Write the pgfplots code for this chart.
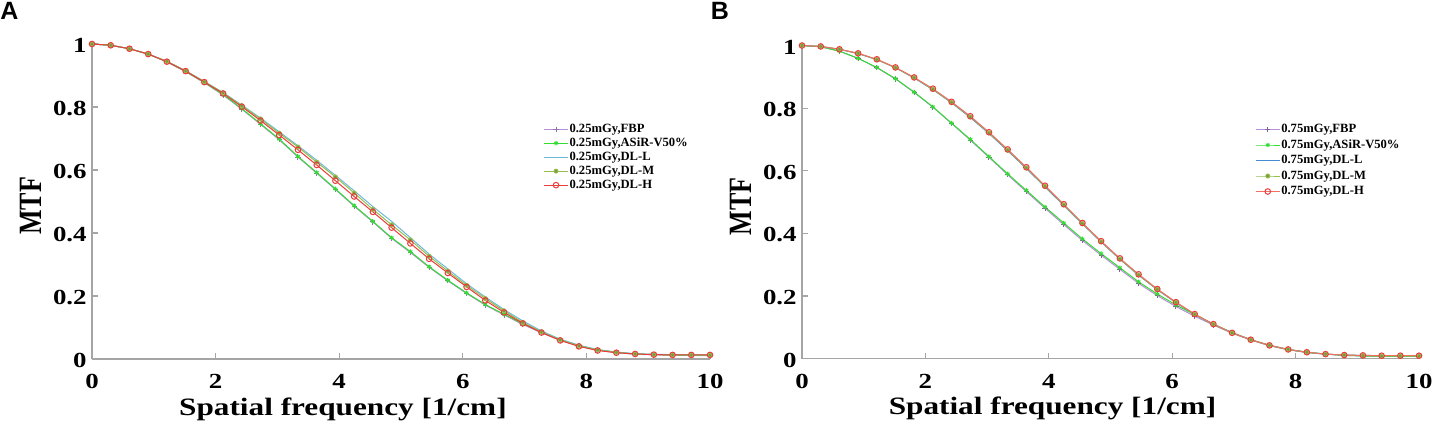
\documentclass[border=0pt]{standalone}
\usepackage{fontspec}
\usepackage{pgfplots}
\usepackage{pgfplotstable}
\pgfplotsset{compat=1.18}
\setmainfont{Liberation Serif}
\newfontfamily\stretchserif[FakeStretch=1.25]{Liberation Serif}
\newfontfamily\panelfont{Liberation Sans}
\newcommand\tickfont{\stretchserif\bfseries\fontsize{10.75}{12}\selectfont}
\newcommand\labelfont{\stretchserif\bfseries\fontsize{12.5}{14}\selectfont}
\newcommand\mtffont{\bfseries\fontsize{13}{15}\selectfont}

\definecolor{cFBP}{RGB}{185,140,215}
\definecolor{cASIR}{RGB}{50,220,50}
\definecolor{cDLLa}{RGB}{110,185,215}
\definecolor{cDLLb}{RGB}{70,140,210}
\definecolor{cDLM}{RGB}{150,190,80}
\definecolor{cDLH}{RGB}{235,60,60}
\definecolor{cDLHb}{RGB}{240,110,100}
\definecolor{axisgray}{RGB}{165,165,165}

\pgfplotstableread{
x FBP ASIR DLL DLM DLH
0.000 1.000 1.000 1.000 1.000 1.000
0.303 0.996 0.996 0.996 0.996 0.996
0.606 0.985 0.985 0.985 0.985 0.985
0.909 0.968 0.968 0.968 0.968 0.968
1.212 0.943 0.944 0.945 0.945 0.944
1.515 0.912 0.913 0.915 0.915 0.914
1.818 0.877 0.878 0.881 0.880 0.879
2.121 0.838 0.840 0.846 0.845 0.843
2.424 0.793 0.795 0.806 0.804 0.801
2.727 0.745 0.747 0.765 0.762 0.757
3.030 0.696 0.698 0.721 0.717 0.711
3.333 0.641 0.643 0.677 0.673 0.664
3.636 0.590 0.592 0.631 0.625 0.616
3.939 0.538 0.540 0.583 0.578 0.566
4.242 0.485 0.487 0.534 0.527 0.516
4.545 0.435 0.437 0.484 0.475 0.467
4.848 0.383 0.385 0.437 0.426 0.417
5.152 0.338 0.341 0.385 0.378 0.367
5.455 0.291 0.293 0.333 0.326 0.318
5.758 0.248 0.250 0.286 0.279 0.273
6.061 0.208 0.210 0.239 0.234 0.229
6.364 0.171 0.173 0.197 0.192 0.186
6.667 0.140 0.142 0.157 0.153 0.148
6.970 0.110 0.112 0.121 0.116 0.113
7.273 0.083 0.085 0.089 0.086 0.084
7.576 0.060 0.061 0.063 0.061 0.059
7.879 0.041 0.042 0.044 0.042 0.040
8.182 0.028 0.029 0.030 0.029 0.027
8.485 0.020 0.021 0.022 0.021 0.020
8.788 0.015 0.016 0.017 0.016 0.016
9.091 0.013 0.014 0.015 0.014 0.014
9.394 0.012 0.013 0.014 0.013 0.013
9.697 0.011 0.012 0.013 0.013 0.013
10.000 0.011 0.012 0.013 0.012 0.013
}\dataA

\pgfplotstableread{
x FBP ASIR DLL DLM DLH
0.000 1.000 1.000 1.000 1.000 1.000
0.303 0.996 0.996 0.997 0.997 0.997
0.606 0.982 0.982 0.988 0.988 0.988
0.909 0.959 0.959 0.974 0.975 0.975
1.212 0.929 0.930 0.955 0.955 0.956
1.515 0.893 0.894 0.929 0.929 0.930
1.818 0.850 0.851 0.896 0.897 0.898
2.121 0.803 0.804 0.859 0.860 0.862
2.424 0.751 0.752 0.817 0.818 0.820
2.727 0.698 0.700 0.770 0.772 0.774
3.030 0.643 0.645 0.719 0.721 0.723
3.333 0.587 0.590 0.664 0.666 0.668
3.636 0.533 0.537 0.607 0.609 0.611
3.939 0.480 0.484 0.548 0.550 0.552
4.242 0.428 0.433 0.489 0.491 0.493
4.545 0.377 0.382 0.430 0.431 0.433
4.848 0.330 0.335 0.372 0.373 0.375
5.152 0.285 0.290 0.317 0.318 0.320
5.455 0.240 0.245 0.266 0.267 0.269
5.758 0.201 0.206 0.220 0.221 0.222
6.061 0.166 0.171 0.178 0.179 0.180
6.364 0.135 0.140 0.141 0.141 0.142
6.667 0.107 0.110 0.109 0.109 0.110
6.970 0.081 0.083 0.082 0.082 0.082
7.273 0.059 0.060 0.060 0.060 0.060
7.576 0.041 0.042 0.042 0.042 0.042
7.879 0.028 0.028 0.029 0.029 0.029
8.182 0.019 0.020 0.020 0.020 0.020
8.485 0.014 0.014 0.014 0.014 0.014
8.788 0.010 0.010 0.011 0.011 0.011
9.091 0.008 0.008 0.010 0.009 0.010
9.394 0.007 0.007 0.009 0.008 0.009
9.697 0.007 0.007 0.009 0.008 0.009
10.000 0.007 0.007 0.009 0.008 0.009
}\dataB

\pgfplotsset{mtf/.style={
  scale only axis, xmin=0, xmax=10, ymin=0, ymax=1, clip=false,
  axis x line*=bottom, axis y line*=left,
  axis line style={draw=axisgray, line width=0.7pt, -},
  xtick={0,2,4,6,8,10}, xticklabels={0,2,4,6,8,10},
  ytick={0,0.2,0.4,0.6,0.8,1}, yticklabels={0,0.2,0.4,0.6,0.8,1},
  tick align=inside, major tick length=3pt,
  tick style={draw=axisgray, line width=0.6pt},
  ticklabel style={font=\tickfont},
  xticklabel style={anchor=center, yshift=-11.25pt},
  yticklabel style={anchor=east, inner sep=0pt, xshift=-2.5pt, yshift=-0.75pt},
  every axis x label/.style={at={(axis description cs:0.406,-0.1587)}, anchor=center, font=\labelfont},
  every axis y label/.style={at={(axis description cs:-0.099,0.486)}, anchor=center, rotate=90, font=\mtffont},
  xlabel={Spatial frequency [1/cm]},
  ylabel={\scalebox{1}[1.25]{MTF}},
  legend cell align=left,
  legend image code/.code={\draw[mark repeat=2,mark phase=2,#1] plot coordinates {(0pt,0pt) (6pt,0pt) (12pt,0pt)};},
  every axis plot/.append style={line width=0.5pt},
}}

\begin{document}
\begin{tikzpicture}[x=1pt,y=1pt]
\useasboundingbox (0,0) rectangle (716.5,212.5);
\node[font=\panelfont\bfseries\fontsize{12.5}{14}\selectfont] at (4.75,207.25) {A};
\node[font=\panelfont\bfseries\fontsize{12.5}{14}\selectfont] at (360,207.25) {B};

\begin{axis}[mtf, at={(46pt,33pt)}, anchor=south west, width=309pt, height=157.5pt,
  legend style={at={(0.73,0.752)}, anchor=north west, draw=none, fill=none, inner sep=0pt,
    font=\bfseries\fontsize{6.3}{7}\selectfont, row sep=0.4pt, column sep=0pt,
    nodes={inner sep=0.5pt, text height=4.5pt, text depth=1.1pt}}]
\addplot[cFBP, mark=+, mark size=1.3pt, mark options={draw=cFBP!80!black}] table[x=x,y=FBP]{\dataA};
\addlegendentry{0.25mGy,FBP}
\addplot[cASIR, mark=asterisk, mark size=1.1pt] table[x=x,y=ASIR]{\dataA};
\addlegendentry{0.25mGy,ASiR-V50\%}
\addplot[cDLLa] table[x=x,y=DLL]{\dataA};
\addlegendentry{0.25mGy,DL-L}
\addplot[cDLM, mark=*, mark size=1pt, mark options={fill=cDLM!80!black, draw=cDLM}] table[x=x,y=DLM]{\dataA};
\addlegendentry{0.25mGy,DL-M}
\addplot[cDLH, mark=o, mark size=1.4pt, mark options={draw=cDLH, fill=none}] table[x=x,y=DLH]{\dataA};
\addlegendentry{0.25mGy,DL-H}
\end{axis}

\begin{axis}[mtf, at={(401pt,33.25pt)}, anchor=south west, width=308.5pt, height=156.5pt,
  legend style={at={(0.734,0.754)}, anchor=north west, draw=none, fill=none, inner sep=0pt,
    font=\bfseries\fontsize{6.3}{7}\selectfont, row sep=1.15pt, column sep=0pt,
    nodes={inner sep=0.5pt, text height=4.5pt, text depth=1.1pt}}]
\addplot[cFBP, mark=+, mark size=1.3pt, mark options={draw=cFBP!70!black}] table[x=x,y=FBP]{\dataB};
\addlegendentry{0.75mGy,FBP}
\addplot[cASIR, mark=asterisk, mark size=1.1pt] table[x=x,y=ASIR]{\dataB};
\addlegendentry{0.75mGy,ASiR-V50\%}
\addplot[cDLLb] table[x=x,y=DLL]{\dataB};
\addlegendentry{0.75mGy,DL-L}
\addplot[cDLM, mark=*, mark size=1pt, mark options={fill=cDLM!80!black, draw=cDLM}] table[x=x,y=DLM]{\dataB};
\addlegendentry{0.75mGy,DL-M}
\addplot[cDLHb, mark=o, mark size=1.4pt, mark options={draw=cDLH, fill=none}] table[x=x,y=DLH]{\dataB};
\addlegendentry{0.75mGy,DL-H}
\end{axis}
\end{tikzpicture}
\end{document}
